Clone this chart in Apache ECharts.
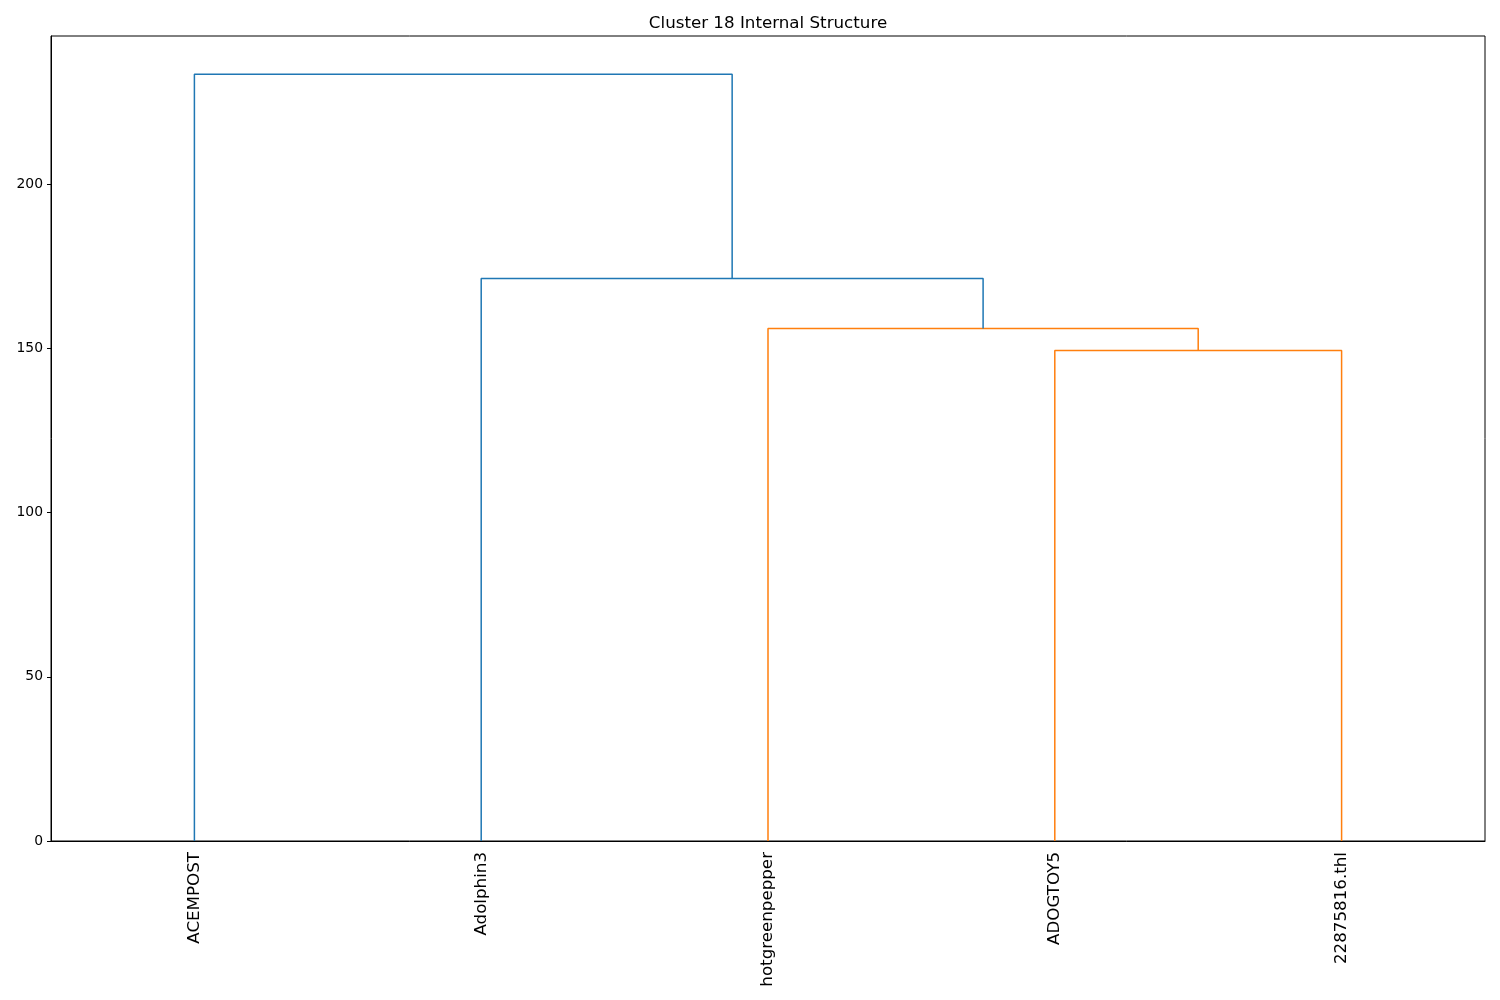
<!DOCTYPE html>
<html>
<head>
<meta charset="utf-8">
<script src="https://cdn.jsdelivr.net/npm/echarts@6/dist/echarts.min.js"></script>
<style>html,body{margin:0;padding:0;background:#fff;}#c{width:1500px;height:1000px;}</style>
</head>
<body>
<div id="c"></div>
<script>
// Leaf labels (left to right) and their x positions (scipy style: 5, 15, 25, ...)
const leaves = ['ACEMPOST', 'Adolphin3', 'hotgreenpepper', 'ADOGTOY5', '22875816.thl'];
const leafPos = [5, 15, 25, 35, 45];
// Link coordinates (scipy dendrogram icoord / dcoord)
const icoord = [
  [35, 35, 45, 45],
  [25, 25, 40, 40],
  [15, 15, 32.5, 32.5],
  [5, 5, 23.75, 23.75]
];
const dcoord = [
  [0, 149.4, 149.4, 0],
  [0, 156.1, 156.1, 149.4],
  [0, 171.3, 171.3, 156.1],
  [0, 233.5, 233.5, 171.3]
];
const linkColors = ['#ff7f0e', '#ff7f0e', '#1f77b4', '#1f77b4'];
const yTicks = [0, 50, 100, 150, 200];

const yMax = 233.5 * 1.05;
const font = 'DejaVu Sans';

const series = icoord.map((xs, i) => ({
  type: 'line',
  data: xs.map((x, j) => [x, dcoord[i][j]]),
  showSymbol: false,
  symbol: 'none',
  lineStyle: { color: linkColors[i], width: 1.5 },
  itemStyle: { color: linkColors[i] },
  animation: false,
  silent: true,
  clip: false
}));

const chart = echarts.init(document.getElementById('c'), null, { renderer: 'canvas' });
chart.setOption({
  animation: false,
  title: {
    text: 'Cluster 18 Internal Structure',
    left: 768,
    top: 15,
    padding: 0,
    textAlign: 'center',
    textStyle: { fontFamily: font, fontSize: 16.7, fontWeight: 'normal', color: '#000' }
  },
  grid: {
    left: 51, right: 15, top: 36, bottom: 159,
    show: true, borderColor: '#000', borderWidth: 1, backgroundColor: 'transparent'
  },
  xAxis: {
    type: 'value',
    min: 0, max: 50,
    axisLine: { show: true, onZero: false, lineStyle: { color: '#000', width: 1 } },
    axisTick: { show: false },
    splitLine: { show: false },
    axisLabel: {
      customValues: leafPos,
      formatter: (v) => { const i = leafPos.indexOf(v); return i >= 0 ? leaves[i] : ''; },
      rotate: 90,
      margin: 11,
      fontFamily: font, fontSize: 16.7, color: '#000'
    }
  },
  yAxis: {
    type: 'value',
    min: 0, max: yMax,
    axisLine: { show: true, lineStyle: { color: '#000', width: 1 } },
    axisTick: { show: true, customValues: yTicks, length: 4, lineStyle: { color: '#000', width: 1 } },
    splitLine: { show: false },
    axisLabel: {
      customValues: yTicks,
      margin: 8,
      fontFamily: font, fontSize: 13.9, color: '#000'
    }
  },
  series: series
});
</script>
</body>
</html>
